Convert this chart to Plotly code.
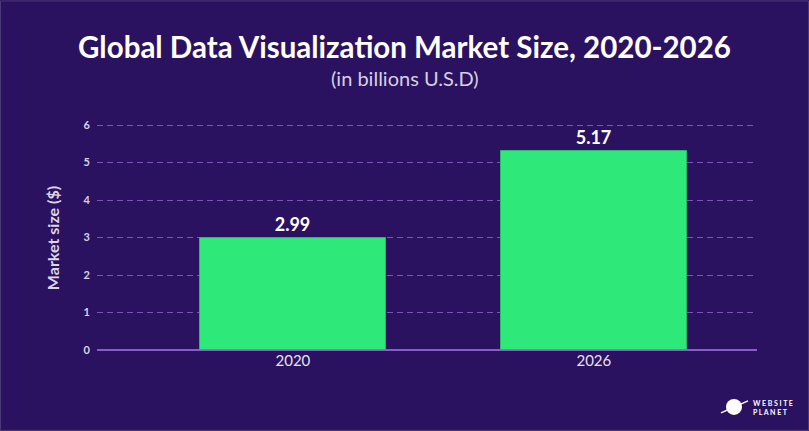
import plotly.graph_objects as go

# Data
years = ["2020", "2026"]
market_size = [2.99, 5.31]          # bar heights as drawn
value_labels = ["2.99", "5.17"]     # labels as printed
y_ticks = [0, 1, 2, 3, 4, 5, 6]

BG = "#2b1260"
GREEN = "#2ee87a"
GRID = "#7d50ba"
AXIS = "#8a5cc9"
FONT = "Lato"

W, H = 809, 431
L, R, T, B = 97, 52, 121.7, 81
pw = W - L - R
ph = H - T - B
YMAX = 6.08


def px(x):
    return (x - L) / pw


def py(y):
    return (H - B - y) / ph


fig = go.Figure()
fig.add_trace(go.Bar(
    x=years,
    y=market_size,
    width=0.618,
    marker=dict(color=GREEN, line=dict(color="#27b86a", width=1)),
    text=value_labels,
    textposition="outside",
    textfont=dict(family=FONT, size=18, color="#ffffff", weight="bold"),
    cliponaxis=False,
    hoverinfo="skip",
))

fig.update_layout(
    width=W, height=H,
    paper_bgcolor=BG, plot_bgcolor=BG,
    margin=dict(l=L, r=R, t=T, b=B),
    showlegend=False,
    bargap=0,
    xaxis=dict(
        type="category",
        range=[-0.651, 1.542],
        showgrid=False, zeroline=False,
        showline=False,
        ticks="",
        tickfont=dict(family=FONT, size=15, color="#e6e2ee"),
    ),
    yaxis=dict(
        range=[0, YMAX],
        tickvals=y_ticks,
        showgrid=True,
        gridcolor=GRID, griddash="6px,4px", gridwidth=1,
        zeroline=True, zerolinecolor=AXIS, zerolinewidth=2,
        showline=False, ticks="",
        ticklabelstandoff=6,
        tickfont=dict(family=FONT, size=11, color="#d9d3e6", weight="bold"),
    ),
    annotations=[
        dict(text="<b>Global Data Visualization Market Size, 2020-2026</b>",
             x=px(404), y=py(46), xref="paper", yref="paper",
             showarrow=False, xanchor="center", yanchor="middle",
             font=dict(family=FONT, size=29.5, color="#ffffff")),
        dict(text="(in billions U.S.D)",
             x=px(405), y=py(78), xref="paper", yref="paper",
             showarrow=False, xanchor="center", yanchor="middle",
             font=dict(family=FONT, size=20, color="#d6d0e2")),
        dict(text="<b>Market size ($)</b>",
             x=px(52), y=py(238), xref="paper", yref="paper",
             showarrow=False, xanchor="center", yanchor="middle",
             textangle=-90,
             font=dict(family=FONT, size=16, color="#dcd7e6")),
        dict(text="<b>W E B S I T E<br>P L A N E T</b>",
             x=px(751), y=py(408), xref="paper", yref="paper",
             showarrow=False, xanchor="left", yanchor="middle",
             align="left",
             font=dict(family=FONT, size=7, color="#ffffff")),
    ],
    shapes=[
        dict(type="circle", xref="paper", yref="paper",
             x0=px(726), x1=px(742), y0=py(415), y1=py(399),
             fillcolor="#ffffff", line=dict(width=0)),
        dict(type="line", xref="paper", yref="paper",
             x0=px(721), x1=px(748), y0=py(413), y1=py(401),
             line=dict(color="#ffffff", width=1.5)),
        dict(type="rect", xref="paper", yref="paper",
             x0=px(0.5), x1=px(W - 0.5), y0=py(0.5), y1=py(H - 0.5),
             line=dict(color="#4a3a78", width=1), fillcolor="rgba(0,0,0,0)",
             layer="below"),
    ],
)

fig.write_html("out.html",
               config={"displayModeBar": False},
               post_script="document.body.style.margin='0';document.body.style.background='" + BG + "';")
